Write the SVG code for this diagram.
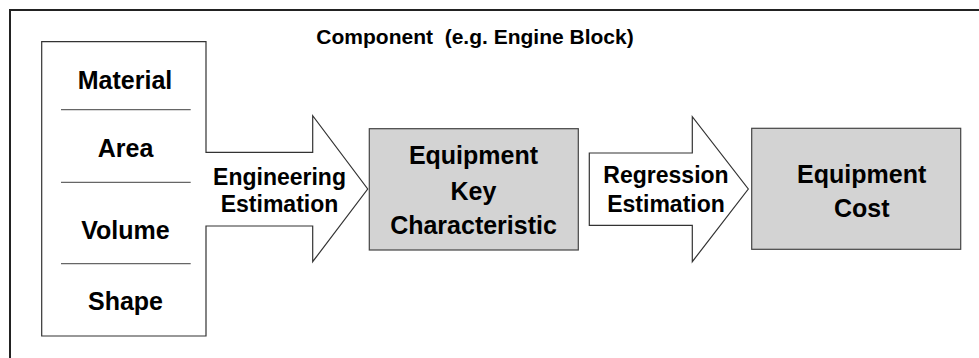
<svg xmlns="http://www.w3.org/2000/svg" width="979" height="358" viewBox="0 0 979 358">
<style>
text{font-family:"Liberation Sans",Arial,sans-serif;font-weight:bold;fill:#000;text-anchor:middle}
.lbl{font-size:25px}
.arr{font-size:23px}
.ttl{font-size:21px;white-space:pre}
.shape{fill:#fff;stroke:#333;stroke-width:1.2}
.box{fill:#d3d3d3;stroke:#444;stroke-width:1.2}
.div{stroke:#666;stroke-width:1.2}
</style>
<rect x="10" y="10" width="980" height="360" fill="#fff" stroke="#222" stroke-width="2"/>
<g id="title"><text class="ttl" x="475" y="44" xml:space="preserve">Component  (e.g. Engine Block)</text></g>
<g id="component">
<polygon class="shape" points="41.7,41.7 206,41.7 206,152.3 312.7,152.3 312.7,115.7 367.7,189 312.7,261.7 312.7,226 206,226 206,336 41.7,336"/>
<line class="div" x1="61" y1="109.7" x2="190.7" y2="109.7"/>
<line class="div" x1="61" y1="182.3" x2="190.7" y2="182.3"/>
<line class="div" x1="61" y1="263.7" x2="190.7" y2="263.7"/>
<text class="lbl" x="125" y="89">Material</text>
<text class="lbl" x="125.5" y="157">Area</text>
<text class="lbl" x="125.5" y="239">Volume</text>
<text class="lbl" x="125.5" y="309.5">Shape</text>
<text class="arr" x="279.5" y="185">Engineering</text>
<text class="arr" x="279.5" y="211.5">Estimation</text>
</g>
<g id="key-characteristic">
<rect class="box" x="369.3" y="128.7" width="209" height="121.3"/>
<text class="lbl" x="473.5" y="164">Equipment</text>
<text class="lbl" x="473.5" y="200">Key</text>
<text class="lbl" x="473.5" y="234">Characteristic</text>
</g>
<g id="connectors">
<g id="regression-arrow">
<polygon class="shape" points="589.3,153 692.3,153 692.3,116.7 748.3,189 692.3,261.7 692.3,225.3 589.3,225.3"/>
<text class="arr" x="666" y="183.3">Regression</text>
<text class="arr" x="666" y="211.7">Estimation</text>
</g>
</g>
<g id="equipment-cost">
<rect class="box" x="751.7" y="128.3" width="209" height="121"/>
<text class="lbl" x="861.7" y="182.7">Equipment</text>
<text class="lbl" x="861.7" y="217.3">Cost</text>
</g>
</svg>
